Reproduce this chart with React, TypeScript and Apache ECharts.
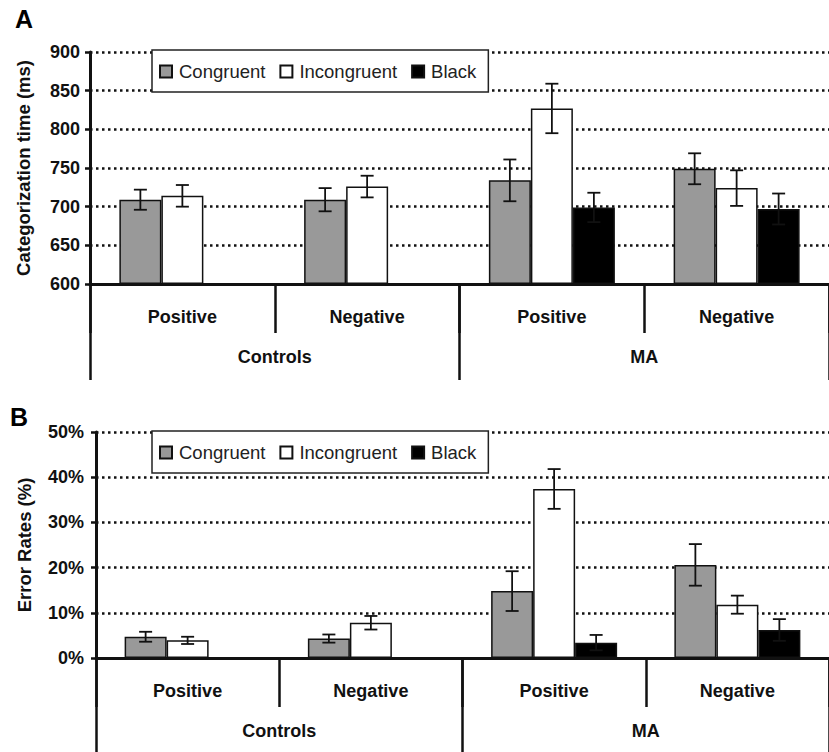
import React, { useEffect, useRef } from "react";
import * as echarts from "echarts";

// ---- Data ----
const categories = ["Positive", "Negative", "Positive", "Negative"];
const groups = ["Controls", "MA"];
const conditions = ["Congruent", "Incongruent", "Black"];

// Panel A: categorization time (ms)
const rtCongruent = [709, 709, 734, 749];
const rtIncongruent = [714, 726, 827, 724];
const rtBlack = [null, null, 699, 697];
const rtCongruentErr = [13, 15, 27, 20];
const rtIncongruentErr = [14, 14, 32, 23];
const rtBlackErr = [null, null, 19, 20];
const rtTicks = { min: 600, max: 900, interval: 50 };

// Panel B: error rates (%)
const erCongruent = [4.7, 4.3, 14.8, 20.6];
const erIncongruent = [3.9, 7.8, 37.4, 11.8];
const erBlack = [null, null, 3.4, 6.2];
const erCongruentErr = [1.1, 0.9, 4.4, 4.6];
const erIncongruentErr = [0.8, 1.5, 4.4, 2.0];
const erBlackErr = [null, null, 1.7, 2.4];
const erTicks = { min: 0, max: 50, interval: 10 };

const colors = ["#999999", "#ffffff", "#000000"];
const FONT = "Liberation Sans, Arial, Helvetica, sans-serif";
const BAR_W = 42;
const CAP = 6.5;
const INK = "#111";

function errData(vals: (number | null)[][], errs: (number | null)[][]) {
  const out: number[][] = [];
  vals.forEach((arr, s) =>
    arr.forEach((v, i) => {
      const e = errs[s][i];
      if (v != null && e != null) out.push([i, v, e, s]);
    })
  );
  return out;
}

const renderErr = (params: any, api: any) => {
  const cat = api.value(0);
  const mean = api.value(1);
  const err = api.value(2);
  const s = api.value(3);
  const lo = api.coord([cat, mean - err]);
  const hi = api.coord([cat, mean + err]);
  const x = lo[0] + (s - 1) * BAR_W;
  const st = { stroke: INK, lineWidth: 1.8 };
  return {
    type: "group",
    children: [
      { type: "line", shape: { x1: x, y1: lo[1], x2: x, y2: hi[1] }, style: st },
      { type: "line", shape: { x1: x - CAP, y1: hi[1], x2: x + CAP, y2: hi[1] }, style: st },
      { type: "line", shape: { x1: x - CAP, y1: lo[1], x2: x + CAP, y2: lo[1] }, style: st },
    ],
  };
};

export default function App() {
  const ref = useRef<HTMLDivElement>(null);
  useEffect(() => {
    if (!ref.current) return;
    const chart = echarts.init(ref.current, null, { renderer: "svg" });

    const catAxis = (gridIndex: number) => ({
      type: "category",
      gridIndex,
      position: "bottom",
      data: categories,
      axisLine: { show: true, lineStyle: { color: INK, width: 3 } },
      axisTick: { show: true, interval: 0, length: 49, lineStyle: { color: INK, width: 2.5 } },
      axisLabel: { interval: 0, margin: 24, fontSize: 18, fontWeight: "bold", color: INK, fontFamily: FONT },
      splitLine: { show: false },
    });
    const groupAxis = (gridIndex: number) => ({
      type: "category",
      gridIndex,
      position: "bottom",
      offset: 0,
      data: groups,
      axisLine: { show: false },
      axisTick: { show: true, interval: 0, length: 96, lineStyle: { color: INK, width: 2.5 } },
      axisLabel: { interval: 0, margin: 64, fontSize: 18, fontWeight: "bold", color: INK, fontFamily: FONT },
      splitLine: { show: false },
    });
    const valAxis = (gridIndex: number, t: any, name: string, gap: number, margin: number, fmt: string) => ({
      type: "value",
      gridIndex,
      min: t.min,
      max: t.max,
      interval: t.interval,
      startValue: t.min,
      name,
      nameLocation: "middle",
      nameGap: gap,
      nameTextStyle: { fontSize: 18.5, fontWeight: "bold", color: INK, fontFamily: FONT },
      axisLine: { show: true, lineStyle: { color: INK, width: 3 } },
      axisTick: { show: true, length: 5, lineStyle: { color: INK, width: 2.5 } },
      axisLabel: { margin, fontSize: 18, fontWeight: "bold", color: INK, fontFamily: FONT, formatter: fmt },
      splitLine: { show: true, lineStyle: { color: INK, width: 2.5, type: [2.5, 3.5] } },
    });
    const legend = (top: number) => ({
      left: 152,
      top,
      orient: "horizontal",
      data: conditions,
      icon: "rect",
      itemWidth: 12,
      itemHeight: 12,
      itemGap: 14,
      selectedMode: false,
      padding: [12, 12, 11, 7],
      borderColor: "#222",
      borderWidth: 1.5,
      borderRadius: 0,
      backgroundColor: "#fff",
      textStyle: { fontSize: 18.5, color: "#222", fontFamily: FONT, padding: [0, 0, 0, 2] },
    });
    const bars = (vals: (number | null)[][], xi: number, yi: number) =>
      conditions.map((name, s) => ({
        name,
        type: "bar",
        xAxisIndex: xi,
        yAxisIndex: yi,
        data: vals[s],
        barWidth: BAR_W,
        barGap: "0%",
        itemStyle: { color: colors[s], borderColor: INK, borderWidth: 1.5 },
        z: 2,
      }));

    const rtVals = [rtCongruent, rtIncongruent, rtBlack];
    const rtErrs = [rtCongruentErr, rtIncongruentErr, rtBlackErr];
    const erVals = [erCongruent, erIncongruent, erBlack];
    const erErrs = [erCongruentErr, erIncongruentErr, erBlackErr];

    chart.setOption({
      animation: false,
      backgroundColor: "#fff",
      grid: [
        { left: 90, top: 52, width: 744, height: 232, containLabel: false },
        { left: 96, top: 432, width: 744, height: 226, containLabel: false },
      ],
      xAxis: [catAxis(0), groupAxis(0), catAxis(1), groupAxis(1)],
      yAxis: [
        valAxis(0, rtTicks, "Categorization time (ms)", 57, 10, "{value}"),
        valAxis(1, erTicks, "Error Rates (%)", 62, 12, "{value}%"),
      ],
      legend: [legend(50), legend(431)],
      graphic: [
        { type: "text", left: 15, top: 6, style: { text: "A", fontSize: 25, fontWeight: "bold", fill: "#000", fontFamily: FONT } },
        { type: "text", left: 10, top: 404, style: { text: "B", fontSize: 25, fontWeight: "bold", fill: "#000", fontFamily: FONT } },
      ],
      series: [
        ...bars(rtVals, 0, 0),
        ...bars(erVals, 2, 1),
        {
          name: "rtErr",
          type: "custom",
          xAxisIndex: 0,
          yAxisIndex: 0,
          data: errData(rtVals, rtErrs),
          renderItem: renderErr,
          z: 5,
          silent: true,
        },
        {
          name: "erErr",
          type: "custom",
          xAxisIndex: 2,
          yAxisIndex: 1,
          data: errData(erVals, erErrs),
          renderItem: renderErr,
          z: 5,
          silent: true,
        },
      ],
    });
    return () => chart.dispose();
  }, []);
  return (
    <div
      ref={ref}
      style={{ position: "absolute", left: 0, top: 0, width: 829, height: 752 }}
    />
  );
}
